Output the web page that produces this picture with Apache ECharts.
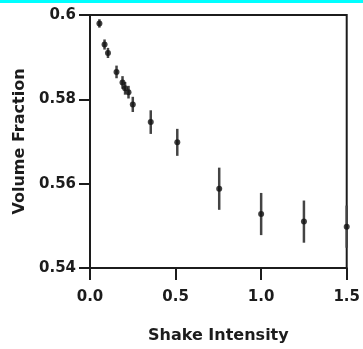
<!DOCTYPE html>
<html>
<head>
<meta charset="utf-8">
<script src="https://cdn.jsdelivr.net/npm/echarts@6/dist/echarts.min.js"></script>
<style>
  html, body { margin: 0; padding: 0; background: #fff; }
  #chart { width: 363px; height: 349px; }
</style>
</head>
<body>
<div id="chart"></div>
<script>
// shake intensity vs volume fraction, with error bars
const shake = [0.055, 0.085, 0.105, 0.155, 0.19, 0.205, 0.225, 0.25, 0.355, 0.51, 0.755, 1.0, 1.25, 1.5];
const volume = [0.598, 0.593, 0.591, 0.5865, 0.584, 0.5826, 0.5817, 0.5788, 0.5746, 0.5698, 0.5588, 0.5528, 0.551, 0.5498];
const errors = [0.001, 0.0012, 0.0012, 0.0015, 0.0015, 0.0015, 0.0015, 0.0018, 0.0028, 0.0032, 0.005, 0.005, 0.005, 0.005];

const xTicks = { min: 0, max: 1.5, interval: 0.5 };
const yTicks = { min: 0.54, max: 0.6, interval: 0.02 };

const points = shake.map((s, i) => [s, volume[i]]);
const bars = shake.map((s, i) => [s, volume[i] - errors[i], volume[i] + errors[i]]);

const ink = '#1c1c1c';
const labelFont = { color: ink, fontSize: 15, fontWeight: 'bold', fontFamily: 'DejaVu Sans' };

const chart = echarts.init(document.getElementById('chart'));

chart.setOption({
  animation: false,
  backgroundColor: '#fff',
  graphic: [{
    type: 'rect',
    left: 0, top: 0,
    shape: { width: 363, height: 3 },
    style: { fill: '#00ffff' }
  }],
  grid: {
    left: 90, right: 11, top: 15, bottom: 80,
    show: true, borderColor: ink, borderWidth: 2, backgroundColor: 'transparent'
  },
  xAxis: {
    type: 'value',
    min: xTicks.min, max: xTicks.max, interval: xTicks.interval,
    name: 'Shake Intensity',
    nameLocation: 'middle',
    nameGap: 60,
    nameTextStyle: { ...labelFont, fontSize: 16 },
    axisLine: { show: true, lineStyle: { color: ink, width: 2 } },
    axisTick: { show: true, length: 12, lineStyle: { color: ink, width: 2 } },
    axisLabel: { ...labelFont, margin: 22, formatter: v => v.toFixed(1) },
    splitLine: { show: false }
  },
  yAxis: {
    type: 'value',
    min: yTicks.min, max: yTicks.max, interval: yTicks.interval,
    name: 'Volume Fraction',
    nameLocation: 'middle',
    nameGap: 60,
    nameTextStyle: { ...labelFont, fontSize: 16 },
    axisLine: { show: true, lineStyle: { color: ink, width: 2 } },
    axisTick: { show: true, length: 11, lineStyle: { color: ink, width: 2 } },
    axisLabel: { ...labelFont, margin: 14, formatter: v => +v.toFixed(2) + '' },
    splitLine: { show: false }
  },
  series: [
    {
      type: 'custom',
      data: bars,
      renderItem: (params, api) => {
        const lo = api.coord([api.value(0), api.value(1)]);
        const hi = api.coord([api.value(0), api.value(2)]);
        return {
          type: 'line',
          shape: { x1: lo[0], y1: lo[1], x2: hi[0], y2: hi[1] },
          style: { stroke: '#444', lineWidth: 2.5 }
        };
      },
      z: 2
    },
    {
      type: 'scatter',
      data: points,
      symbol: 'circle',
      symbolSize: 6,
      itemStyle: { color: '#111' },
      z: 3
    }
  ]
});
</script>
</body>
</html>
